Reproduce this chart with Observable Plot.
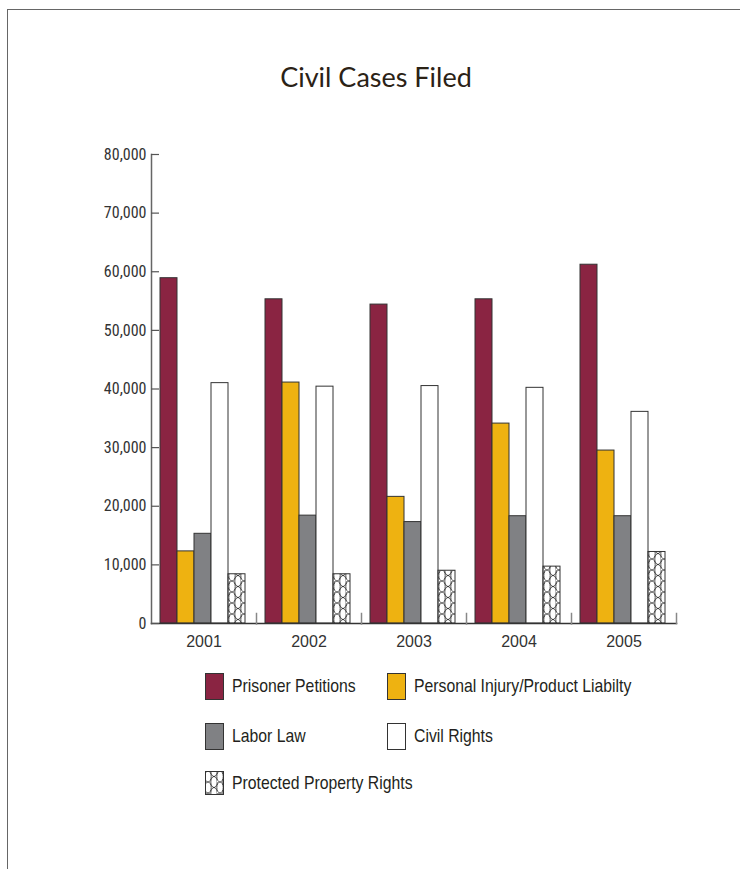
<!DOCTYPE html>
<html>
<head>
<meta charset="utf-8">
<script src="https://cdn.jsdelivr.net/npm/d3@7"></script>
<script src="https://cdn.jsdelivr.net/npm/@observablehq/plot@0.6"></script>
<style>
  html, body { margin: 0; padding: 0; background: #fff; }
  #page { position: relative; width: 740px; height: 869px; overflow: hidden; background: #fff; }
  #border { position: absolute; left: 7px; top: 9px; width: 760px; height: 900px;
            border-top: 1.5px solid #666; border-left: 1.5px solid #666; }
  #title { position: absolute; left: 0; width: 752px; top: 60px; text-align: center;
           font-family: Lato, "Open Sans", sans-serif; font-size: 27px; color: #2b2216; }
  #chart { position: absolute; left: 0; top: 130px; }
  .sw { position: absolute; box-sizing: border-box; border: 1px solid #333; }
  .lt { position: absolute; font-family: "Liberation Sans", Arial, sans-serif;
        font-size: 19px; color: #231f20; line-height: 26px; white-space: nowrap;
        transform: scaleX(0.83); transform-origin: 0 50%; }
</style>
</head>
<body>
<svg width="0" height="0" style="position:absolute">
  <defs>
    <pattern id="net" patternUnits="userSpaceOnUse" width="12" height="11">
      <rect width="12" height="11" fill="#fff"/>
      <ellipse cx="3" cy="5.5" rx="3.2" ry="5.5" fill="none" stroke="#222" stroke-width="0.8"/>
      <ellipse cx="9" cy="0" rx="3.2" ry="5.5" fill="none" stroke="#222" stroke-width="0.8"/>
      <ellipse cx="9" cy="11" rx="3.2" ry="5.5" fill="none" stroke="#222" stroke-width="0.8"/>
      <ellipse cx="15" cy="5.5" rx="3.2" ry="5.5" fill="none" stroke="#222" stroke-width="0.8"/>
      <ellipse cx="-3" cy="0" rx="3.2" ry="5.5" fill="none" stroke="#222" stroke-width="0.8"/>
    </pattern>
  </defs>
</svg>
<div id="page">
  <div id="border"></div>
  <div id="title">Civil Cases Filed</div>
  <div id="chart"></div>
  <div id="legend"></div>
</div>
<script>
// ---- data ----
const years = ["2001", "2002", "2003", "2004", "2005"];
const seriesNames = ["Prisoner Petitions", "Personal Injury/Product Liabilty", "Labor Law", "Civil Rights", "Protected Property Rights"];
const prisonerPetitions = [58900, 55300, 54400, 55300, 61200];
const personalInjury    = [12300, 41100, 21600, 34100, 29500];
const laborLaw          = [15300, 18400, 17300, 18300, 18300];
const civilRights       = [41000, 40400, 40500, 40200, 36100];
const protectedProperty = [8400, 8400, 9000, 9700, 12200];
const yTicks = [0, 10000, 20000, 30000, 40000, 50000, 60000, 70000, 80000];
const seriesColors = ["#8a2442", "#eeb211", "#808184", "#ffffff", "url(#net)"];

const seriesValues = [prisonerPetitions, personalInjury, laborLaw, civilRights, protectedProperty];
const table = [];
years.forEach((yr, i) => seriesNames.forEach((s, j) => table.push({year: yr, series: s, value: seriesValues[j][i]})));

const narrow = "'Roboto Condensed', 'Liberation Sans Narrow', 'DejaVu Sans Condensed', sans-serif";

const chart = Plot.plot({
  width: 740,
  height: 533,
  marginLeft: 150,
  marginRight: 64,
  marginTop: 24,
  marginBottom: 40,
  style: {background: "transparent", overflow: "visible"},
  fx: {domain: years, padding: 0, label: null, axis: null},
  x: {domain: seriesNames, padding: 0, insetLeft: 8, insetRight: 10.75, axis: null},
  y: {domain: [0, 80000], axis: null},
  color: {domain: seriesNames, range: seriesColors},
  marks: [
    Plot.barY(table, {fx: "year", x: "series", y: "value", fill: "series", stroke: "#333", strokeWidth: 1}),
    Plot.frame({anchor: "bottom", stroke: "#333", strokeWidth: 1.5}),
    Plot.frame({anchor: "left", facetAnchor: "left", stroke: "#666", strokeWidth: 1.5}),
    Plot.frame({anchor: "right", insetTop: 459, stroke: "#888", strokeWidth: 1.5}),
    Plot.axisY(yTicks, {label: null, tickFormat: d3.format(","), tickSize: -8, tickPadding: 13, fontSize: 16,
                        fontFamily: narrow, fill: "#333", stroke: "#555", strokeWidth: 1.2}),
    Plot.axisFx({anchor: "bottom", tickSize: 0, tickPadding: 12, fontSize: 16, label: null,
                 fontFamily: "'Liberation Sans', Arial, sans-serif", fill: "#333"})
  ]
});
document.getElementById("chart").appendChild(chart);

// ---- legend ----
const legend = document.getElementById("legend");
const legPos = [[205, 673], [387, 673], [205, 723], [387, 723], [205, 771]];
seriesNames.forEach((s, j) => {
  const [lx, ly] = legPos[j];
  if (j === 4) {
    const ns = "http://www.w3.org/2000/svg";
    const svg = document.createElementNS(ns, "svg");
    svg.setAttribute("width", 20); svg.setAttribute("height", 25);
    svg.style.position = "absolute"; svg.style.left = lx + "px"; svg.style.top = ly + "px";
    const r = document.createElementNS(ns, "rect");
    r.setAttribute("x", 0.5); r.setAttribute("y", 0.5); r.setAttribute("width", 18); r.setAttribute("height", 23);
    r.setAttribute("fill", seriesColors[j]); r.setAttribute("stroke", "#333");
    svg.appendChild(r);
    legend.appendChild(svg);
  } else {
    const sw = document.createElement("div");
    sw.className = "sw";
    sw.style.left = lx + "px"; sw.style.top = ly + "px";
    sw.style.width = "19px"; sw.style.height = "27px";
    sw.style.background = seriesColors[j];
    legend.appendChild(sw);
  }
  const t = document.createElement("div");
  t.className = "lt";
  t.textContent = s;
  t.style.left = (lx + 27) + "px";
  t.style.top = (j === 4 ? ly - 1 : ly) + "px";
  legend.appendChild(t);
});
</script>
</body>
</html>
